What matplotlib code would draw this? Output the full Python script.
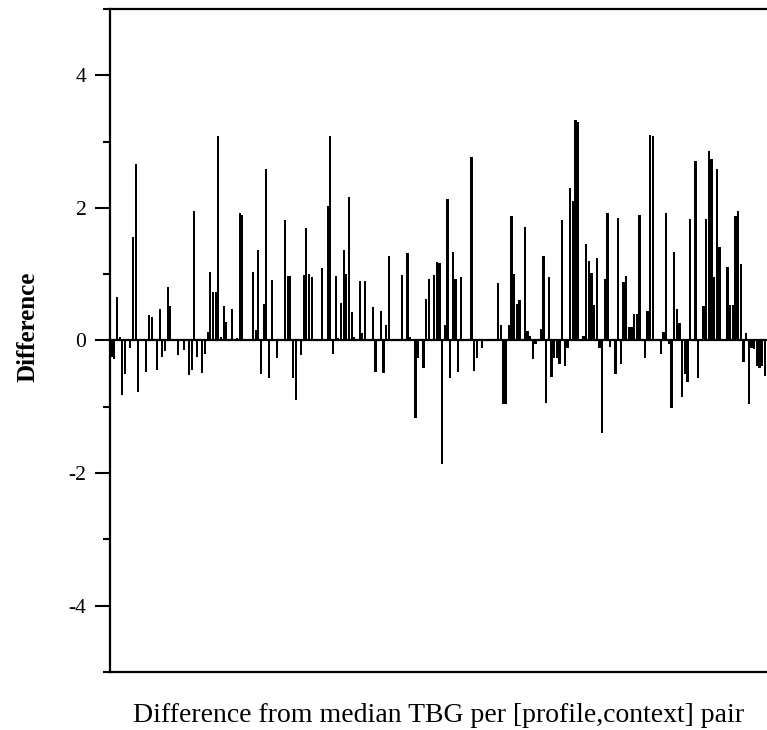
import matplotlib
matplotlib.use("Agg")
import matplotlib.pyplot as plt
from matplotlib.ticker import MultipleLocator
import numpy as np

plt.rcParams['font.family'] = ['Liberation Serif', 'DejaVu Serif']
plt.rcParams['axes.unicode_minus'] = False

# difference per [profile,context] pair, left to right (0 where no visible bar)
diff = [
    -0.25, -0.28, 0.66, 0.05, -0.83, -0.50, 0, -0.12, 1.56, 2.66,
    -0.77, 0, 0, -0.47, 0.39, 0.36, 0, -0.45, 0.47, -0.25,
    -0.16, 0.80, 0.52, 0, 0, -0.22, 0, -0.15, 0, -0.52,
    -0.45, 1.96, -0.25, 0, -0.49, -0.20, 0.13, 1.03, 0.73, 0.73,
    3.09, 0.05, 0.52, 0.28, 0, 0.48, 0, 0.03, 1.92, 1.90,
    0, 0, 0, 1.04, 0.16, 1.37, -0.51, 0.55, 2.59, -0.56,
    0.91, 0, -0.26, 0, 0, 1.81, 0.97, 0.97, -0.56, -0.90,
    0, -0.22, 0.99, 1.69, 1.00, 0.96, 0, 0, 0, 1.09,
    0, 2.03, 3.09, -0.20, 0.97, 0.03, 0.56, 1.36, 1.00, 2.16,
    0.43, 0.05, 0, 0.89, 0.12, 0.89, 0, 0, 0.50, -0.48,
    0, 0.45, -0.49, 0.23, 1.27, 0, 0, 0, 0, 0.99,
    0, 1.32, 0.05, 0, -1.17, -0.27, 0, -0.41, 0.62, 0.92,
    0, 0.99, 1.19, 1.17, -1.86, 0.24, 2.13, -0.56, 1.33, 0.93,
    -0.47, 0.96, 0, 0, 0, 2.76, -0.46, -0.26, 0, -0.11,
    0, 0, 0, 0, 0, 0.87, 0.24, -0.96, -0.96, 0.23,
    1.88, 1.01, 0.55, 0.61, 0, 1.71, 0.15, 0.07, -0.28, -0.06,
    0, 0.18, 1.27, -0.95, 0.95, -0.55, -0.27, -0.27, -0.35, 1.82,
    -0.39, -0.12, 2.30, 2.10, 3.32, 3.30, 0, 0.07, 1.46, 1.20,
    1.02, 0.53, 1.25, -0.11, -1.40, 0.93, 1.92, -0.10, 0, -0.51,
    1.85, -0.36, 0.88, 0.97, 0.20, 0.20, 0.40, 0.40, 1.89, 0,
    -0.26, 0.45, 3.10, 3.08, 0, 0, -0.20, 0.13, 1.92, -0.05,
    -1.02, 1.34, 0.48, 0.26, -0.86, -0.50, -0.62, 1.83, 0, 2.71,
    -0.57, 0, 0.52, 1.83, 2.86, 2.73, 0.96, 2.59, 1.41, 0,
    0, 1.11, 0.53, 0.53, 1.87, 1.95, 1.16, -0.32, 0.12, -0.96,
    -0.12, -0.13, -0.38, -0.42, -0.38, -0.53,
]

y_ticks = [-4, -2, 0, 2, 4]

fig = plt.figure(figsize=(7.67, 7.30), dpi=100)
ax = fig.add_axes([0.1434, 0.0795, 0.8566, 0.9082])

x = np.arange(len(diff))
ax.bar(x, diff, width=0.8, color='black', edgecolor='none')
ax.axhline(0, color='black', lw=1.6)

ax.set_xlim(-0.6, 245.8)
ax.set_ylim(-5, 5)
ax.set_yticks(y_ticks)
ax.set_yticklabels([str(t) for t in y_ticks])
ax.yaxis.set_minor_locator(MultipleLocator(1))
ax.set_xticks([])

ax.tick_params(axis='y', which='major', direction='out', length=11, width=1.5,
               labelsize=15.5, pad=6)
ax.tick_params(axis='y', which='minor', direction='out', length=5, width=1.5)

for side in ['left', 'bottom', 'top']:
    ax.spines[side].set_linewidth(1.6)
ax.spines['right'].set_visible(False)

ax.set_ylabel('Difference', fontsize=18, fontweight='bold')
ax.yaxis.set_label_coords(-0.108, 0.52)
ax.set_xlabel('Difference from median TBG per [profile,context] pair', fontsize=20,
              labelpad=22)

fig.savefig('out.png', dpi=100)
